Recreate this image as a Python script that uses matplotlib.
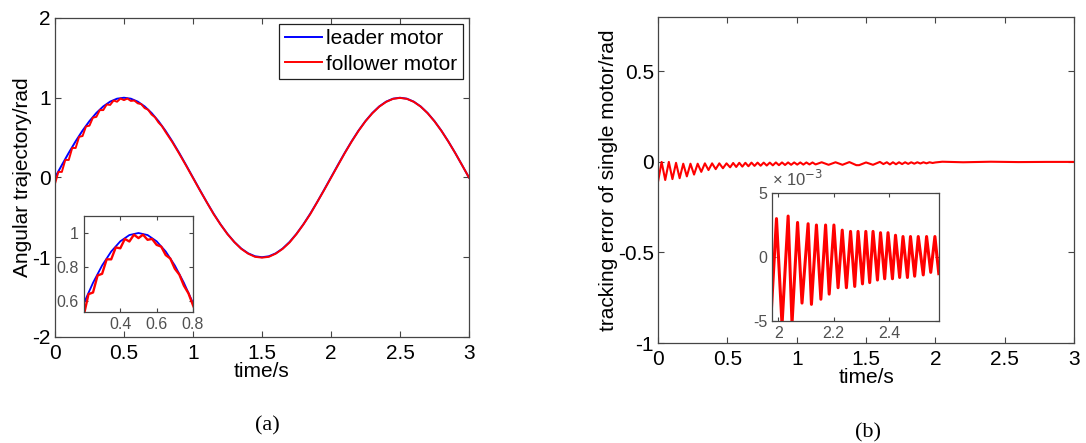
import numpy as np
import matplotlib
matplotlib.use('Agg')
import matplotlib.pyplot as plt
from matplotlib.ticker import FuncFormatter

plt.rcParams['font.family'] = ['Liberation Sans', 'DejaVu Sans']
plt.rcParams['axes.unicode_minus'] = False

# (a) leader motor trajectory, read every 0.05 s
leader_t = [0.0, 0.05, 0.1, 0.15, 0.2, 0.25, 0.3, 0.35, 0.4, 0.45, 0.5, 0.55, 0.6, 0.65, 0.7,
            0.75, 0.8, 0.85, 0.9, 0.95, 1.0, 1.05, 1.1, 1.15, 1.2, 1.25, 1.3, 1.35, 1.4, 1.45,
            1.5, 1.55, 1.6, 1.65, 1.7, 1.75, 1.8, 1.85, 1.9, 1.95, 2.0, 2.05, 2.1, 2.15, 2.2,
            2.25, 2.3, 2.35, 2.4, 2.45, 2.5, 2.55, 2.6, 2.65, 2.7, 2.75, 2.8, 2.85, 2.9, 2.95, 3.0]
leader_y = [0.0, 0.156, 0.309, 0.454, 0.588, 0.707, 0.809, 0.891, 0.951, 0.988, 1.0, 0.988, 0.951,
            0.891, 0.809, 0.707, 0.588, 0.454, 0.309, 0.156, 0.0, -0.156, -0.309, -0.454, -0.588,
            -0.707, -0.809, -0.891, -0.951, -0.988, -1.0, -0.988, -0.951, -0.891, -0.809, -0.707,
            -0.588, -0.454, -0.309, -0.156, 0.0, 0.156, 0.309, 0.454, 0.588, 0.707, 0.809, 0.891,
            0.951, 0.988, 1.0, 0.988, 0.951, 0.891, 0.809, 0.707, 0.588, 0.454, 0.309, 0.156, 0.0]

# (a) follower motor trajectory (ripples in the first 0.8 s)
follower_t = [0.0, 0.025, 0.05, 0.075, 0.1, 0.125, 0.15, 0.175, 0.2, 0.225, 0.25, 0.275, 0.3,
              0.325, 0.35, 0.375, 0.4, 0.425, 0.45, 0.475, 0.5, 0.525, 0.55, 0.575, 0.6, 0.625,
              0.65, 0.675, 0.7, 0.725, 0.75, 0.775, 0.8, 0.85, 0.9, 0.95, 1.0, 1.05, 1.1, 1.15,
              1.2, 1.25, 1.3, 1.35, 1.4, 1.45, 1.5, 1.55, 1.6, 1.65, 1.7, 1.75, 1.8, 1.85, 1.9,
              1.95, 2.0, 2.05, 2.1, 2.15, 2.2, 2.25, 2.3, 2.35, 2.4, 2.45, 2.5, 2.55, 2.6, 2.65,
              2.7, 2.75, 2.8, 2.85, 2.9, 2.95, 3.0]
follower_y = [-0.08, 0.07, 0.07, 0.22, 0.22, 0.37, 0.37, 0.51, 0.52, 0.64, 0.65, 0.75, 0.76,
              0.845, 0.845, 0.915, 0.91, 0.965, 0.95, 0.99, 0.97, 0.99, 0.96, 0.965, 0.93, 0.92,
              0.87, 0.85, 0.79, 0.755, 0.69, 0.645, 0.575, 0.445, 0.3, 0.15, -0.005, -0.16, -0.31,
              -0.46, -0.59, -0.71, -0.81, -0.895, -0.955, -0.995, -1.005, -0.995, -0.955, -0.895,
              -0.815, -0.71, -0.59, -0.46, -0.31, -0.16, -0.005, 0.15, 0.305, 0.45, 0.585, 0.705,
              0.805, 0.888, 0.948, 0.986, 0.998, 0.986, 0.949, 0.889, 0.807, 0.705, 0.586, 0.452,
              0.308, 0.155, 0.0]

# (b) tracking error of single motor
err_t = [0.0, 0.026, 0.052, 0.078, 0.104, 0.13, 0.156, 0.182, 0.208, 0.234, 0.26, 0.286, 0.312,
         0.338, 0.364, 0.39, 0.416, 0.442, 0.468, 0.494, 0.52, 0.542, 0.564, 0.586, 0.608, 0.63,
         0.652, 0.674, 0.696, 0.718, 0.74, 0.762, 0.784, 0.806, 0.828, 0.85, 0.872, 0.894, 0.916,
         0.938, 0.96, 0.982, 1.004, 1.026, 1.048, 1.07, 1.092, 1.114, 1.136, 1.18, 1.23, 1.28,
         1.33, 1.38, 1.43, 1.45, 1.5, 1.55, 1.6, 1.625, 1.65, 1.672, 1.694, 1.716, 1.738, 1.76,
         1.782, 1.804, 1.826, 1.848, 1.87, 1.892, 1.914, 1.936, 1.958, 1.98, 2.0, 2.05, 2.2,
         2.4, 2.6, 2.8, 3.0]
err_y = [-0.11, 0.0, -0.1, 0.0, -0.095, -0.005, -0.09, -0.01, -0.08, -0.01, -0.07, -0.01, -0.055,
         -0.008, -0.045, -0.008, -0.04, -0.008, -0.035, -0.008, -0.03, -0.006, -0.028, -0.005,
         -0.026, -0.005, -0.024, -0.004, -0.022, -0.004, -0.021, -0.004, -0.02, -0.004, -0.019,
         -0.003, -0.018, -0.003, -0.017, -0.003, -0.016, -0.003, -0.015, -0.003, -0.015, -0.003,
         -0.014, -0.003, -0.014, -0.002, -0.016, -0.002, -0.016, -0.001, -0.018, -0.018, -0.003,
         -0.016, 0.0, -0.012, -0.002, -0.014, -0.002, -0.013, -0.002, -0.012, -0.002, -0.011,
         -0.002, -0.01, -0.002, -0.009, -0.002, -0.008, -0.002, -0.006, -0.003, 0.001, -0.002,
         0.001, -0.001, 0.0, 0.0]

# (b) zoomed error, units of 1e-3 rad
zoom_t = [1.976, 1.994, 2.014, 2.036, 2.05, 2.07, 2.086, 2.108, 2.12, 2.138, 2.154, 2.171, 2.184,
          2.201, 2.216, 2.231, 2.246, 2.261, 2.276, 2.288, 2.304, 2.316, 2.33, 2.342, 2.358, 2.369,
          2.384, 2.396, 2.412, 2.423, 2.438, 2.45, 2.466, 2.477, 2.492, 2.505, 2.523, 2.535, 2.55,
          2.565, 2.579]
zoom_y = [-4.0, 3.0, -5.3, 3.2, -5.2, 2.7, -3.6, 2.6, -3.7, 2.5, -3.3, 2.5, -2.9, 2.5, -2.4, 2.1,
          -2.4, 2.0, -2.3, 2.0, -2.1, 2.0, -2.0, 2.0, -1.8, 1.9, -1.7, 1.9, -1.7, 1.7, -1.6, 1.6,
          -1.6, 1.6, -1.5, 1.6, -1.4, 1.6, -1.2, 1.6, -1.3]

fmt = FuncFormatter(lambda v, p: '%g' % v)
spine_col = '#454545'


def style(ax, size, col='black', length=4):
    ax.tick_params(direction='in', top=True, right=True, labelsize=size, colors=spine_col,
                   labelcolor=col, length=length, width=0.8)
    for s in ax.spines.values():
        s.set_color(spine_col)
        s.set_linewidth(0.9)
    ax.xaxis.set_major_formatter(fmt)
    ax.yaxis.set_major_formatter(fmt)


fig = plt.figure(figsize=(10.86, 4.43), dpi=100)

# ---- (a)
ax1 = fig.add_axes([0.0506, 0.2393, 0.3812, 0.7201])
ax1.plot(leader_t, leader_y, color='blue', lw=1.4, label='leader motor')
ax1.plot(follower_t, follower_y, color='red', lw=1.4, label='follower motor')
ax1.set_xlim(0, 3)
ax1.set_ylim(-2, 2)
ax1.set_xticks([0, 0.5, 1, 1.5, 2, 2.5, 3])
ax1.set_yticks([-2, -1, 0, 1, 2])
style(ax1, 15)
ax1.tick_params(axis='x', pad=5)
ax1.tick_params(axis='y', pad=3)
ax1.set_xlabel('time/s', fontsize=15, labelpad=-1)
ax1.set_ylabel('Angular trajectory/rad', fontsize=15, labelpad=0)
leg = ax1.legend(loc='upper right', fontsize=15, fancybox=False, framealpha=1,
                 edgecolor='#202020', handlelength=1.8, handletextpad=0.2,
                 borderaxespad=0.3, borderpad=0.25, labelspacing=0.3)
leg.get_frame().set_linewidth(0.9)

ins1 = fig.add_axes([0.0773, 0.2957, 0.1004, 0.2167])
ins1.plot(leader_t, leader_y, color='blue', lw=1.3)
ins1.plot(follower_t, follower_y, color='red', lw=1.7)
ins1.set_xlim(0.2, 0.8)
ins1.set_ylim(0.535, 1.1)
ins1.set_xticks([0.4, 0.6, 0.8])
ins1.set_yticks([0.6, 0.8, 1])
style(ins1, 11.5, col='#505050', length=3)

fig.text(0.246, 0.028, '(a)', family='Liberation Serif', fontsize=16, ha='center')

# ---- (b)
ax2 = fig.add_axes([0.6059, 0.2257, 0.3831, 0.7359])
ax2.plot(err_t, err_y, color='red', lw=1.5)
ax2.set_xlim(0, 3)
ax2.set_ylim(-1, 0.8)
ax2.set_xticks([0, 0.5, 1, 1.5, 2, 2.5, 3])
ax2.set_yticks([-1, -0.5, 0, 0.5])
style(ax2, 15)
ax2.tick_params(axis='x', pad=5)
ax2.tick_params(axis='y', pad=3)
ax2.set_xlabel('time/s', fontsize=15, labelpad=-1)
ax2.set_ylabel('tracking error of single motor/rad', fontsize=15, labelpad=0)

ins2 = fig.add_axes([0.7109, 0.2754, 0.1538, 0.2889])
ins2.plot(zoom_t, zoom_y, color='red', lw=2.2)
ins2.set_xlim(1.978, 2.58)
ins2.set_ylim(-5, 5)
ins2.set_xticks([2, 2.2, 2.4])
ins2.set_yticks([-5, 0, 5])
style(ins2, 11.5, col='#505050', length=3)
ins2.text(0.0, 1.03, '× 10$^{-3}$', transform=ins2.transAxes, fontsize=12, color='#505050',
          ha='left', va='bottom')

fig.text(0.799, 0.012, '(b)', family='Liberation Serif', fontsize=16, ha='center')

fig.savefig('out.png', dpi=100)
